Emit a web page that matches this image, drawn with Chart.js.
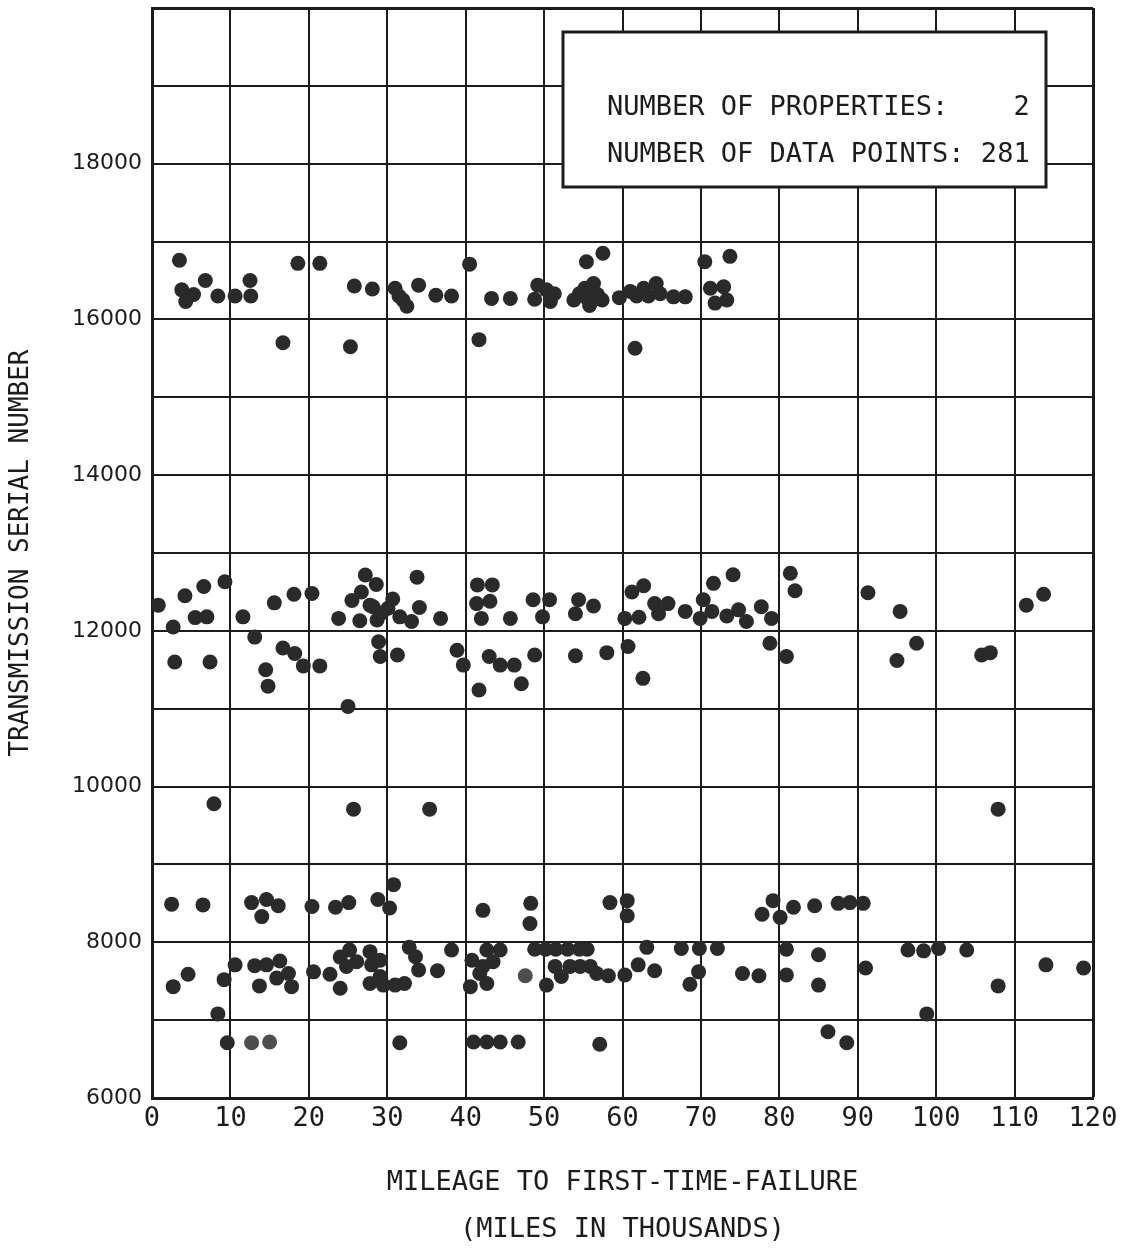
<!DOCTYPE html>
<html>
<head>
<meta charset="utf-8">
<script src="https://cdn.jsdelivr.net/npm/chart.js@4/dist/chart.umd.min.js"></script>
<style>
html,body{margin:0;padding:0;background:#fff}
</style>
</head>
<body>
<canvas id="chart" width="1122" height="1253"></canvas>
<script>
// ================= DATA =================
// [mileage (thousands), transmission serial number]
const topBand = [
  [3.5,16760],[3.8,16380],[4.3,16230],[5.3,16320],[6.8,16500],[8.4,16300],[10.6,16300],
  [12.5,16500],[12.6,16300],[16.7,15700],[18.6,16720],[21.4,16720],[25.3,15650],[25.8,16430],
  [28.1,16390],[31.0,16400],[31.5,16300],[32.0,16250],[32.5,16170],[34.0,16440],[36.2,16310],
  [38.2,16300],[40.5,16710],[41.7,15740],[43.3,16270],[45.7,16270],[48.8,16260],[49.2,16440],
  [50.3,16380],[50.8,16230],[51.3,16330],[53.8,16250],[54.5,16330],[55.2,16400],[55.5,16270],
  [56.3,16460],[56.8,16320],[57.4,16250],[55.8,16180],[55.4,16740],[57.5,16850],[59.6,16280],
  [61.0,16360],[61.8,16300],[62.7,16400],[63.3,16300],[64.3,16460],[64.8,16330],[66.5,16290],
  [68.0,16290],[61.6,15630],[70.5,16740],[73.7,16810],[71.2,16400],[72.9,16420],[71.8,16210],
  [73.3,16250]
];

const midBand = [
  [0.8,12330],[2.7,12050],[2.9,11600],[4.2,12450],[5.5,12170],[6.6,12570],[7.0,12180],[7.4,11600],
  [7.9,9780],[9.3,12630],[11.6,12180],[13.1,11920],[14.5,11500],[14.8,11290],[15.6,12360],
  [16.7,11780],[18.1,12470],[18.2,11710],[19.3,11550],[20.4,12480],[21.4,11550],[23.8,12160],
  [25.0,11030],[25.5,12390],[25.7,9710],[26.5,12130],[26.7,12500],[27.2,12717],[27.8,12330],
  [28.2,12310],[28.6,12595],[28.7,12140],[28.9,11860],[29.1,11670],[29.3,12230],[30.1,12290],
  [30.7,12410],[31.3,11690],[31.6,12180],[33.1,12120],[33.8,12690],[34.1,12300],[35.4,9710],
  [36.8,12160],[38.9,11750],[39.7,11560],[41.4,12350],[41.5,12590],[41.7,11240],[42.0,12160],
  [43.0,11670],[43.1,12380],[43.4,12590],[44.4,11560],[45.7,12160],[46.2,11560],[47.1,11320],
  [48.6,12400],[48.8,11690],[49.8,12180],[50.7,12400],[54.0,12220],[54.0,11680],[54.4,12400],
  [56.3,12320],[58.0,11720],[60.3,12160],[60.7,11800],[61.2,12500],[62.1,12175],[62.6,11390],
  [62.7,12580],[64.1,12350],[64.6,12220],[65.8,12350],[68.0,12250],[69.9,12160],[70.3,12400],
  [71.4,12250],[71.6,12610],[73.3,12190],[74.1,12720],[74.8,12270],[75.8,12120],[77.7,12310],
  [78.8,11840],[79.0,12160],[80.9,11670],[81.4,12740],[82.0,12515],[91.3,12490],[95.0,11620],
  [95.4,12250],[97.5,11840],[105.8,11690],[106.9,11720],[107.9,9710],[111.5,12330],[113.7,12470]
];

const lowBand = [
  // 8300 - 8750
  [2.5,8490],[6.5,8480],[12.7,8510],[14.0,8330],[14.6,8550],[16.1,8470],[20.4,8460],[23.4,8450],
  [25.1,8510],[28.8,8550],[30.3,8440],[30.8,8740],[42.2,8410],[48.2,8240],[48.3,8500],[58.4,8510],
  [60.6,8535],[60.6,8340],[77.8,8360],[79.2,8535],[80.1,8320],[81.8,8450],[84.5,8470],[87.5,8500],
  [89.0,8510],[90.7,8500],
  // 7000 - 8000
  [2.7,7430],[4.6,7590],[8.4,7080],[9.2,7520],[10.6,7710],[13.1,7700],[13.7,7440],[14.6,7710],
  [15.9,7540],[16.3,7760],[17.4,7600],[17.8,7430],[20.6,7620],[22.7,7590],[24.0,7810],[24.0,7410],
  [24.8,7690],[25.2,7900],[26.1,7750],[27.8,7880],[27.8,7470],[28.0,7710],[29.1,7770],[29.1,7560],
  [29.5,7450],[31.0,7450],[32.2,7470],[32.8,7935],[33.6,7815],[34.0,7644],[36.4,7635],[38.2,7900],
  [40.6,7430],[40.8,7770],[41.8,7600],[42.2,7690],[42.7,7900],[42.7,7470],[43.5,7750],[44.4,7900],
  [48.8,7910],[50.2,7910],[51.5,7910],[53.0,7910],[54.5,7910],[55.5,7910],[50.3,7450],[51.4,7690],
  [52.2,7560],[53.3,7690],[54.6,7690],[55.9,7690],[56.7,7600],[58.2,7570],[60.3,7580],[62.0,7710],
  [63.1,7935],[64.1,7635],[67.5,7920],[68.6,7460],[69.7,7620],[69.8,7920],[72.1,7920],[75.3,7600],
  [77.4,7570],[80.9,7910],[80.9,7580],[85.0,7840],[85.0,7450],[91.0,7670],[96.4,7900],[98.4,7890],
  [98.8,7080],[100.3,7920],[103.9,7900],[107.9,7440],[114.0,7710],[118.8,7670],
  // 6700 - 6850
  [9.6,6710],[31.6,6710],[41.0,6720],[42.7,6720],[44.4,6720],[46.7,6720],[57.1,6690],[86.2,6850],
  [88.6,6710]
];

// fainter (greyer) dots
const fadedDots = [[12.7,6710],[15.0,6720],[47.6,7570]];

const xTicks = {min:0, max:120, step:10};
const yTicks = {min:6000, max:20000, step:1000, labelStep:2000};

const infoLines = [
  "NUMBER OF PROPERTIES:    2",
  "NUMBER OF DATA POINTS: 281"
];

// ================= STYLE =================
const INK = "#1c1c1c";
const MONO = "'DejaVu Sans Mono', 'Liberation Mono', monospace";
const SANS = "'DejaVu Sans', Verdana, sans-serif";

const toPts = arr => arr.map(p => ({x:p[0], y:p[1]}));

// ================= INFO BOX =================
const infoBox = {
  id: "infoBox",
  afterDatasetsDraw(chart){
    const {ctx, chartArea:a} = chart;
    const left = a.left + 411, top = a.top + 24, w = 483, h = 155;
    ctx.save();
    ctx.fillStyle = "#fff";
    ctx.fillRect(left, top, w, h);
    ctx.lineWidth = 3;
    ctx.strokeStyle = INK;
    ctx.strokeRect(left, top, w, h);
    ctx.fillStyle = INK;
    ctx.font = "27px " + MONO;
    ctx.textBaseline = "middle";
    ctx.textAlign = "left";
    ctx.fillText(infoLines[0], left + 44, top + 76);
    ctx.fillText(infoLines[1], left + 44, top + 123);
    ctx.restore();
  }
};

// ================= CHART =================
new Chart(document.getElementById("chart").getContext("2d"), {
  type: "scatter",
  data: {
    datasets: [
      {data: toPts(topBand), backgroundColor: "#2a2a2a"},
      {data: toPts(midBand), backgroundColor: "#2a2a2a"},
      {data: toPts(lowBand), backgroundColor: "#2a2a2a"},
      {data: toPts(fadedDots), backgroundColor: "#4e4e4e"}
    ]
  },
  options: {
    responsive: false,
    animation: false,
    devicePixelRatio: 1,
    elements: {point: {radius: 7.5, borderWidth: 0, hoverRadius: 7.5}},
    layout: {padding: {top: 8, right: 29, left: 0, bottom: 0}},
    plugins: {legend: {display: false}, tooltip: {enabled: false}},
    scales: {
      x: {
        type: "linear",
        min: xTicks.min, max: xTicks.max,
        ticks: {stepSize: xTicks.step, color: INK, font: {family: MONO, size: 27}, padding: 5, maxRotation: 0, autoSkip: false},
        grid: {color: INK, lineWidth: c => (c.tick && c.tick.value === xTicks.max) ? 3 : 2, drawTicks: false},
        border: {color: INK, width: 3},
        title: {display: true, text: ["MILEAGE TO FIRST-TIME-FAILURE", "(MILES IN THOUSANDS)"], color: INK,
                font: {family: MONO, size: 27, lineHeight: 47/27}, padding: {top: 0, bottom: 0}},
        afterFit: s => { s.height = 155; s.paddingLeft = 0; s.paddingRight = 0; }
      },
      y: {
        type: "linear",
        min: yTicks.min, max: yTicks.max,
        ticks: {stepSize: yTicks.step, color: INK, font: {family: SANS, size: 22}, padding: 10, autoSkip: false,
                callback: v => (v % yTicks.labelStep === 0 && v < yTicks.max) ? String(v) : ""},
        grid: {color: INK, lineWidth: c => (c.tick && c.tick.value === yTicks.max) ? 3 : 2, drawTicks: false},
        border: {color: INK, width: 3},
        title: {display: true, text: "TRANSMISSION SERIAL NUMBER", color: INK,
                font: {family: MONO, size: 26}, padding: {top: 6, bottom: 0}},
        afterFit: s => { s.width = 152; s.paddingTop = 0; s.paddingBottom = 0; }
      }
    }
  },
  plugins: [infoBox]
});
</script>
</body>
</html>
